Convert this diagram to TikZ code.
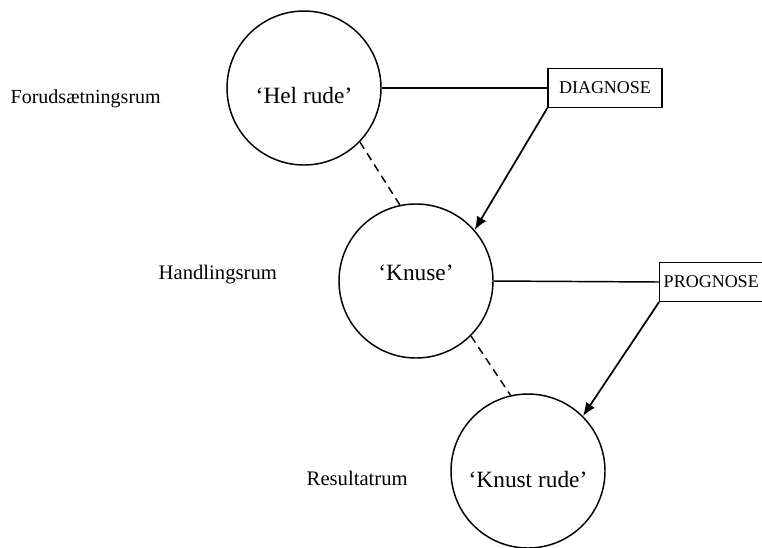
\documentclass[tikz,border=0pt]{standalone}
\usepackage{fontspec}
\setmainfont{Liberation Serif}
\usetikzlibrary{arrows.meta}
\tikzset{
    rum/.style={draw, circle, line width=1.1pt, minimum size=115.5pt, inner sep=0pt},
    rumtekst/.style={anchor=base, font=\fontsize{17.5}{20}\selectfont},
    rumnavn/.style={anchor=base west, font=\fontsize{15.5}{18}\selectfont},
    boks/.style={draw, line width=1.1pt, minimum height=29pt, font=\fontsize{13.5}{16}\selectfont},
    forbind/.style={line width=1.1pt},
    spor/.style={line width=1.1pt, dash pattern=on 6pt off 4pt},
    pil/.style={line width=1.3pt, -{Latex[length=10pt,width=8pt]}}
}
\begin{document}
\begin{tikzpicture}[x=0.75pt,y=-0.75pt]
            \useasboundingbox (0,0) rectangle (762,547);

            % de tre rum
            \node[rum] (hel) at (304,88) {};
            \node[rum] (knuse) at (416,281) {};
            \node[rum] (knust) at (528,471) {};
            \node[rumtekst] (heltxt) at (304,103) {‘Hel rude’};
            \node[rumtekst] (knusetxt) at (416,280) {‘Knuse’};
            \node[rumtekst] (knusttxt) at (528,487) {‘Knust rude’};

            \node[rumnavn, font=\fontsize{15}{18}\selectfont] (forud) at (6,103) {Forudsætningsrum};
            \node[rumnavn] (handl) at (154,279) {Handlingsrum};
            \node[rumnavn] (result) at (302,485) {Resultatrum};

            \node[boks, minimum width=85.5pt] (diag) at (605,88) {DIAGNOSE};
            \node[boks, anchor=west, inner xsep=3pt] (prog) at (659,282) {PROGNOSE};

            \draw[forbind] (hel.east) -- (diag.west);
            \draw[forbind] (knuse.east) -- (prog.west);

            \draw[spor] (hel.-44) -- (knuse.102);
            \draw[spor] (knuse.-45) -- (knust.103);

            \draw[pil] (diag.south west) -- (knuse.41);
            \draw[pil] (prog.south west) -- (knust.45);

        \end{tikzpicture}
\end{document}
